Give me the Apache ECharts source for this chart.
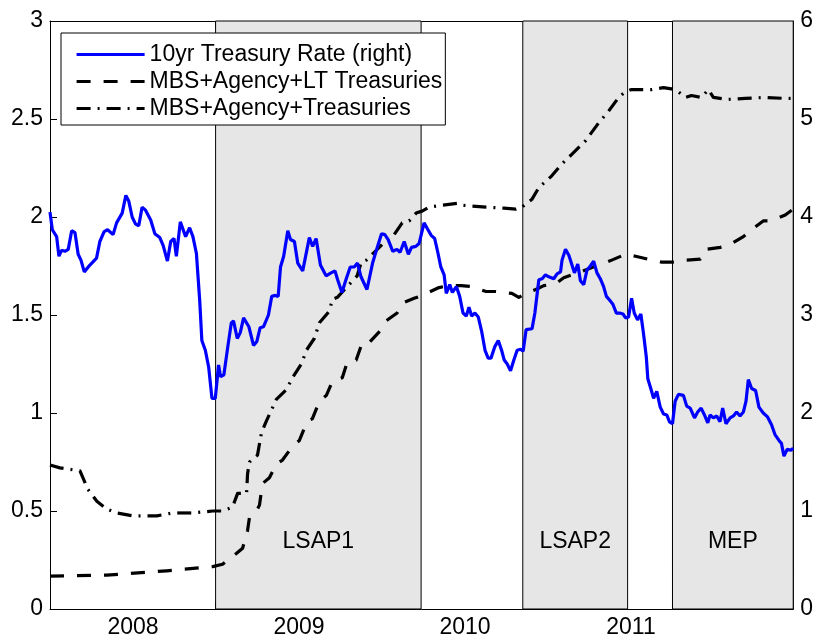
<!DOCTYPE html>
<html lang="en">
<head>
<meta charset="UTF-8">
<title>Fed holdings vs 10yr rate</title>
<script src="https://cdn.jsdelivr.net/npm/echarts@6.0.0/dist/echarts.min.js"></script>
<style>
  html, body { margin: 0; padding: 0; background: #fff; }
  #chart { width: 816px; height: 639px; }
</style>
</head>
<body>
<div id="chart"></div>
<script>
var FONT = '"Liberation Sans", Arial, Helvetica, sans-serif';
var FS = 23;

var seriesNames = ['10yr Treasury Rate (right)', 'MBS+Agency+LT Treasuries', 'MBS+Agency+Treasuries'];

// x is in decimal years; year labels sit between the yearly ticks
var xMin = 2008, xMax = 2012.488;
var yearLabels = ['2008', '2009', '2010', '2011'];

// shaded programme windows
var programs = [
  {name: 'LSAP1', from: 2009.000, to: 2010.241},
  {name: 'LSAP2', from: 2010.855, to: 2011.488},
  {name: 'MEP',   from: 2011.759, to: 2012.488}
];

// 10yr treasury rate, right axis (percent)
var rate10y = [
  [2008.000,4.05],[2008.014,3.87],[2008.040,3.80],[2008.054,3.60],[2008.070,3.66],[2008.090,3.65],[2008.110,3.67],
  [2008.131,3.86],[2008.151,3.84],[2008.170,3.62],[2008.187,3.56],[2008.207,3.44],[2008.241,3.51],[2008.281,3.58],
  [2008.301,3.75],[2008.327,3.85],[2008.348,3.87],[2008.381,3.82],[2008.402,3.94],[2008.436,4.04],[2008.458,4.22],
  [2008.476,4.16],[2008.496,4.00],[2008.516,3.93],[2008.536,3.91],[2008.556,4.10],[2008.577,4.07],[2008.608,3.97],
  [2008.633,3.83],[2008.663,3.79],[2008.683,3.71],[2008.709,3.55],[2008.729,3.75],[2008.749,3.78],[2008.763,3.60],
  [2008.787,3.95],[2008.819,3.80],[2008.843,3.89],[2008.863,3.80],[2008.884,3.63],[2008.904,3.15],[2008.917,2.74],
  [2008.938,2.64],[2008.958,2.47],[2008.978,2.15],[2008.998,2.15],
  [2009.018,2.49],[2009.030,2.37],[2009.050,2.39],[2009.074,2.68],[2009.095,2.92],[2009.108,2.94],[2009.131,2.76],
  [2009.149,2.82],[2009.169,2.97],[2009.201,2.88],[2009.229,2.69],[2009.249,2.73],[2009.269,2.87],[2009.289,2.88],
  [2009.319,3.00],[2009.339,3.19],[2009.361,3.20],[2009.378,3.19],[2009.392,3.49],[2009.411,3.60],[2009.436,3.86],
  [2009.452,3.77],[2009.476,3.75],[2009.496,3.53],[2009.526,3.45],[2009.566,3.79],[2009.586,3.70],[2009.607,3.78],
  [2009.633,3.51],[2009.667,3.40],[2009.697,3.43],[2009.721,3.45],[2009.737,3.36],[2009.763,3.23],[2009.787,3.36],
  [2009.813,3.49],[2009.837,3.49],[2009.857,3.53],[2009.878,3.39],[2009.914,3.26],[2009.948,3.53],[2009.978,3.70],
  [2010.002,3.83],[2010.022,3.82],[2010.042,3.77],[2010.070,3.65],[2010.095,3.67],[2010.114,3.64],[2010.139,3.75],
  [2010.164,3.62],[2010.183,3.69],[2010.209,3.70],[2010.229,3.73],[2010.259,3.94],[2010.279,3.88],[2010.303,3.81],
  [2010.323,3.78],[2010.343,3.63],[2010.360,3.49],[2010.380,3.41],[2010.393,3.22],[2010.414,3.31],[2010.430,3.23],
  [2010.454,3.29],[2010.474,3.19],[2010.494,3.02],[2010.514,2.99],[2010.530,3.08],[2010.546,2.99],[2010.566,3.02],
  [2010.586,2.98],[2010.607,2.83],[2010.627,2.64],[2010.646,2.56],[2010.663,2.56],[2010.687,2.68],[2010.707,2.74],
  [2010.727,2.64],[2010.743,2.54],[2010.761,2.50],[2010.781,2.43],[2010.801,2.54],[2010.821,2.64],[2010.842,2.65],
  [2010.857,2.63],[2010.875,2.85],[2010.911,2.86],[2010.928,3.02],[2010.952,3.36],[2010.972,3.37],[2010.992,3.41],
  [2011.012,3.39],[2011.042,3.37],[2011.062,3.42],[2011.083,3.44],[2011.092,3.56],[2011.113,3.67],[2011.133,3.61],
  [2011.152,3.51],[2011.167,3.43],[2011.187,3.52],[2011.203,3.35],[2011.223,3.31],[2011.243,3.46],[2011.263,3.50],
  [2011.283,3.55],[2011.303,3.43],[2011.323,3.37],[2011.343,3.29],[2011.360,3.19],[2011.380,3.15],[2011.399,3.11],
  [2011.420,3.02],[2011.440,3.02],[2011.460,3.01],[2011.476,2.97],[2011.494,2.98],[2011.512,3.17],[2011.528,3.02],
  [2011.548,2.95],[2011.568,3.01],[2011.584,2.81],[2011.601,2.57],[2011.610,2.35],[2011.628,2.25],[2011.645,2.15],
  [2011.664,2.22],[2011.685,2.06],[2011.705,1.99],[2011.725,1.98],[2011.741,1.91],[2011.759,1.89],[2011.775,2.12],
  [2011.795,2.19],[2011.825,2.18],[2011.845,2.07],[2011.866,2.05],[2011.892,1.95],[2011.911,2.01],[2011.932,2.05],
  [2011.952,1.98],[2011.972,1.90],[2011.986,1.98],
  [2012.006,1.95],[2012.026,1.97],[2012.046,1.91],[2012.062,2.05],[2012.082,1.89],[2012.107,1.95],[2012.127,1.97],
  [2012.146,2.01],[2012.167,1.97],[2012.187,2.01],[2012.203,2.12],[2012.217,2.34],[2012.237,2.25],[2012.261,2.23],
  [2012.281,2.06],[2012.307,2.00],[2012.333,1.96],[2012.357,1.88],[2012.378,1.78],[2012.402,1.72],[2012.417,1.69],
  [2012.432,1.56],[2012.452,1.63],[2012.474,1.62],[2012.488,1.64]
];

// MBS + agency + long-term treasuries, left axis
var ltHoldings = [
  [2008.000,0.168],[2008.343,0.173],[2008.705,0.195],[2008.982,0.216],[2009.042,0.228],[2009.127,0.284],
  [2009.163,0.31],[2009.193,0.40],[2009.205,0.47],[2009.247,0.50],[2009.265,0.53],[2009.283,0.64],[2009.325,0.67],
  [2009.367,0.74],[2009.404,0.76],[2009.464,0.83],[2009.506,0.86],[2009.554,0.96],[2009.584,0.97],[2009.627,1.06],
  [2009.669,1.09],[2009.705,1.16],[2009.765,1.18],[2009.795,1.26],[2009.849,1.27],[2009.886,1.36],[2009.928,1.36],
  [2010.006,1.43],[2010.030,1.47],[2010.096,1.51],[2010.127,1.56],[2010.199,1.585],[2010.247,1.60],[2010.349,1.64],
  [2010.410,1.65],[2010.482,1.65],[2010.542,1.645],[2010.633,1.62],[2010.693,1.62],[2010.789,1.61],[2010.831,1.59],
  [2010.873,1.61],[2010.934,1.63],[2010.982,1.65],[2011.054,1.66],[2011.102,1.69],[2011.205,1.72],[2011.265,1.74],
  [2011.331,1.76],[2011.392,1.78],[2011.476,1.81],[2011.536,1.80],[2011.633,1.78],[2011.693,1.77],[2011.783,1.77],
  [2011.843,1.78],[2011.928,1.785],[2011.958,1.835],[2012.048,1.845],[2012.108,1.86],[2012.187,1.90],[2012.229,1.93],
  [2012.307,1.98],[2012.355,1.98],[2012.440,2.01],[2012.488,2.04]
];

// MBS + agency + all treasuries, left axis
var totalHoldings = [
  [2008.000,0.735],[2008.060,0.72],[2008.181,0.705],[2008.229,0.61],[2008.283,0.55],[2008.343,0.51],[2008.404,0.49],
  [2008.500,0.475],[2008.645,0.475],[2008.741,0.49],[2008.861,0.49],[2008.982,0.50],[2009.042,0.50],[2009.102,0.52],
  [2009.133,0.59],[2009.187,0.59],[2009.193,0.69],[2009.205,0.75],[2009.253,0.785],[2009.277,0.90],[2009.307,0.96],
  [2009.367,1.07],[2009.428,1.12],[2009.464,1.18],[2009.518,1.25],[2009.548,1.32],[2009.596,1.38],[2009.627,1.46],
  [2009.687,1.52],[2009.705,1.58],[2009.735,1.59],[2009.855,1.70],[2009.880,1.77],[2009.910,1.78],[2009.958,1.82],
  [2010.006,1.86],[2010.078,1.91],[2010.127,1.97],[2010.169,1.98],[2010.211,2.02],[2010.247,2.03],[2010.289,2.05],
  [2010.367,2.06],[2010.458,2.07],[2010.488,2.06],[2010.633,2.05],[2010.741,2.045],[2010.813,2.04],[2010.849,2.05],
  [2010.910,2.09],[2010.952,2.15],[2011.030,2.21],[2011.090,2.27],[2011.151,2.32],[2011.235,2.39],[2011.313,2.48],
  [2011.373,2.54],[2011.434,2.61],[2011.476,2.64],[2011.512,2.65],[2011.633,2.65],[2011.705,2.66],[2011.777,2.65],
  [2011.837,2.61],[2011.873,2.62],[2011.934,2.61],[2011.976,2.65],[2012.006,2.61],[2012.096,2.60],[2012.199,2.605],
  [2012.319,2.61],[2012.440,2.605],[2012.488,2.605]
];

var chart = echarts.init(document.getElementById('chart'), null, {renderer: 'canvas'});

var black = '#000';
var gridBox = {left: 50, right: 21, top: 21, bottom: 30};
var dashLT = [14, 13];
var dashDot = [14, 7, 2, 7];

function frameAxis(pos, extra) {
  return Object.assign({
    type: 'value',
    gridIndex: 0,
    position: pos,
    axisLine: {show: true, onZero: false, lineStyle: {color: black, width: 1}},
    axisTick: {show: true, inside: true, length: 7, lineStyle: {color: black, width: 1}},
    splitLine: {show: false}
  }, extra);
}

// walk the projected path and emit the "on" pieces of the dash pattern as solid bits
function dashedPath(points, pattern) {
  return function (params, api) {
    var px = points.map(function (p) { return api.coord(p); });
    var pieces = [], cur = null;
    var k = 0, left = pattern[0];
    for (var i = 0; i < px.length - 1; i++) {
      var a = px[i], b = px[i + 1];
      var dx = b[0] - a[0], dy = b[1] - a[1];
      var len = Math.sqrt(dx * dx + dy * dy), pos = 0;
      while (pos < len) {
        var step = Math.min(left, len - pos);
        var t0 = pos / len, t1 = (pos + step) / len;
        if (k % 2 === 0) {
          if (!cur) cur = [[a[0] + dx * t0, a[1] + dy * t0]];
          cur.push([a[0] + dx * t1, a[1] + dy * t1]);
        }
        pos += step;
        left -= step;
        if (left <= 1e-6) {
          if (cur) { pieces.push(cur); cur = null; }
          k = (k + 1) % pattern.length;
          left = pattern[k];
        }
      }
    }
    if (cur) pieces.push(cur);
    return {
      type: 'group',
      children: pieces.map(function (pts) {
        return {
          type: 'polyline',
          shape: {points: pts},
          style: {stroke: black, lineWidth: 3.2, fill: null, lineCap: 'butt', lineJoin: 'round'}
        };
      })
    };
  };
}

var option = {
  animation: false,
  backgroundColor: '#fff',
  textStyle: {fontFamily: FONT},
  grid: [Object.assign({}, gridBox), Object.assign({}, gridBox)],
  xAxis: [
    frameAxis('bottom', {min: xMin, max: xMax, interval: 1, axisLabel: {show: false}}),
    frameAxis('top', {min: xMin, max: xMax, interval: 1, axisLabel: {show: false}}),
    {
      // year labels, centred inside each year
      type: 'value', gridIndex: 1, position: 'bottom',
      min: xMin, max: xMax, interval: 0.5,
      axisLine: {show: false}, axisTick: {show: false}, splitLine: {show: false},
      axisLabel: {
        margin: 8, fontSize: FS, color: black, fontFamily: FONT,
        formatter: function (v) {
          var i = Math.floor(v) - 2008;
          return (Math.abs(v - Math.floor(v) - 0.5) < 0.01 && yearLabels[i]) ? yearLabels[i] : '';
        }
      }
    }
  ],
  yAxis: [
    frameAxis('left', {min: 0, max: 3, interval: 0.5,
      axisLabel: {margin: 7, fontSize: FS, color: black, fontFamily: FONT}}),
    frameAxis('right', {min: 0, max: 6, interval: 1,
      axisLabel: {margin: 7, fontSize: FS, color: black, fontFamily: FONT}}),
    {type: 'value', gridIndex: 1, show: false, min: 0, max: 1}
  ],
  legend: {
    data: seriesNames,
    orient: 'vertical',
    left: 61, top: 33,
    itemWidth: 68, itemHeight: 14, itemGap: 4,
    padding: [10, 3, 5, 14],
    borderColor: black, borderWidth: 1,
    backgroundColor: '#fff',
    selectedMode: false,
    itemStyle: {opacity: 0},
    lineStyle: {width: 3.2},
    textStyle: {fontSize: FS, color: black, fontFamily: FONT},
    z: 10
  },
  series: [
    {
      name: 'programs', type: 'line', data: [], xAxisIndex: 0, yAxisIndex: 0,
      markArea: {
        silent: true,
        itemStyle: {color: '#e6e6e6', borderColor: black, borderWidth: 1},
        label: {
          show: true, position: ['50%', '88.4%'], align: 'center', verticalAlign: 'middle',
          fontSize: FS, color: black, fontFamily: FONT
        },
        data: programs.map(function (p) {
          return [{name: p.name, xAxis: p.from}, {xAxis: p.to}];
        })
      }
    },
    {
      name: seriesNames[0], type: 'line', xAxisIndex: 0, yAxisIndex: 1,
      data: rate10y, symbol: 'none', z: 5,
      lineStyle: {color: '#0000ff', width: 3.2},
      itemStyle: {color: '#0000ff'}
    },
    // legend entries for the two black lines
    {
      name: seriesNames[1], type: 'line', xAxisIndex: 0, yAxisIndex: 0,
      data: [], symbol: 'none',
      lineStyle: {color: black, width: 3.2, type: dashLT},
      itemStyle: {color: black}
    },
    {
      name: seriesNames[2], type: 'line', xAxisIndex: 0, yAxisIndex: 0,
      data: [], symbol: 'none',
      lineStyle: {color: black, width: 3.2, type: dashDot},
      itemStyle: {color: black}
    },
    {
      name: 'ltPath', type: 'custom', xAxisIndex: 0, yAxisIndex: 0, z: 5, silent: true,
      data: [ltHoldings[0]],
      renderItem: dashedPath(ltHoldings, dashLT)
    },
    {
      name: 'totalPath', type: 'custom', xAxisIndex: 0, yAxisIndex: 0, z: 5, silent: true,
      data: [totalHoldings[0]],
      renderItem: dashedPath(totalHoldings, dashDot)
    }
  ]
};

chart.setOption(option);
</script>
</body>
</html>
